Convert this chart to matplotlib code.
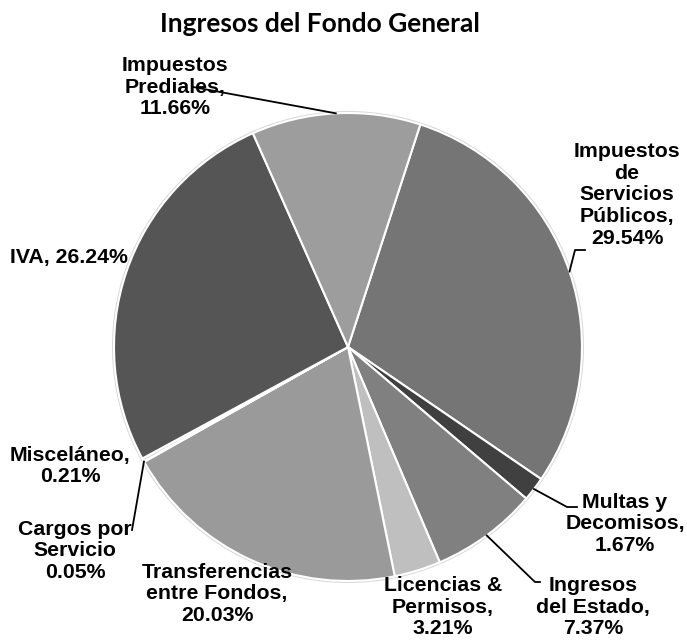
import matplotlib.pyplot as plt
import numpy as np
from matplotlib.patches import Circle

# datos del grafico
categorias = ['Impuestos\nde\nServicios\nPúblicos', 'Multas y\nDecomisos', 'Ingresos\ndel Estado',
              'Licencias &\nPermisos', 'Transferencias\nentre Fondos', 'Cargos por\nServicio',
              'Misceláneo', 'IVA', 'Impuestos\nPrediales']
porcentajes = [29.54, 1.67, 7.37, 3.21, 20.03, 0.05, 0.21, 26.24, 11.66]
separadores = [',\n', ',\n', ',\n', ',\n', ',\n', '\n', ',\n', ', ', ',\n']
colores = ['#757575', '#404040', '#808080', '#bfbfbf', '#9a9a9a', '#d0d0d0', '#d0d0d0',
           '#555555', '#9d9d9d']

W, H = 687, 642


def px(x, y):
    # pixel (desde arriba) -> coordenadas de datos
    return x, H - y


fig = plt.figure(figsize=(W / 100, H / 100), dpi=100)
ax = fig.add_axes([0, 0, 1, 1])

centro = px(348, 347)
radio = 234

ax.add_patch(Circle(centro, radio + 2, facecolor='#d8d8d8', edgecolor='none', zorder=0))
wedges, _ = ax.pie(porcentajes, colors=colores, startangle=72, counterclock=False,
                   center=centro, radius=radio,
                   wedgeprops=dict(edgecolor='white', linewidth=1.5))

ax.set_xlim(0, W)
ax.set_ylim(0, H)
ax.set_aspect('equal')
ax.axis('off')

# posicion de etiquetas (centro del texto) y lineas guia
pos_texto = [(627, 195), (625, 524), (593, 607), (443, 607), (217, 594),
             (75, 551), (70, 466), (69, 258), (175, 87)]
guias = {0: [(575, 250), (585, 250)],
         1: [(567, 507), (577, 507)],
         2: [(535, 582), (540, 582)],
         5: [(132, 530)],
         8: [(193, 87)]}

fuente = dict(family=['Liberation Sans', 'DejaVu Sans'], fontweight='bold', fontsize=15.3)

for i, w in enumerate(wedges):
    etiqueta = categorias[i] + separadores[i] + '%.2f%%' % porcentajes[i]
    x, y = px(*pos_texto[i])
    ax.text(x, y, etiqueta, ha='center', va='center', linespacing=1.18, **fuente)
    if i in guias:
        ang = np.deg2rad((w.theta1 + w.theta2) / 2)
        xs = [centro[0] + radio * np.cos(ang)]
        ys = [centro[1] + radio * np.sin(ang)]
        for p in guias[i]:
            gx, gy = px(*p)
            xs.append(gx)
            ys.append(gy)
        ax.plot(xs, ys, color='black', lw=1.3, zorder=5)

tx, ty = px(320, 24)
ax.text(tx, ty, 'Ingresos del Fondo General', ha='center', va='center',
        family=['Lato', 'DejaVu Sans'], fontweight='bold', fontsize=19)

fig.savefig('out.png', dpi=100)
